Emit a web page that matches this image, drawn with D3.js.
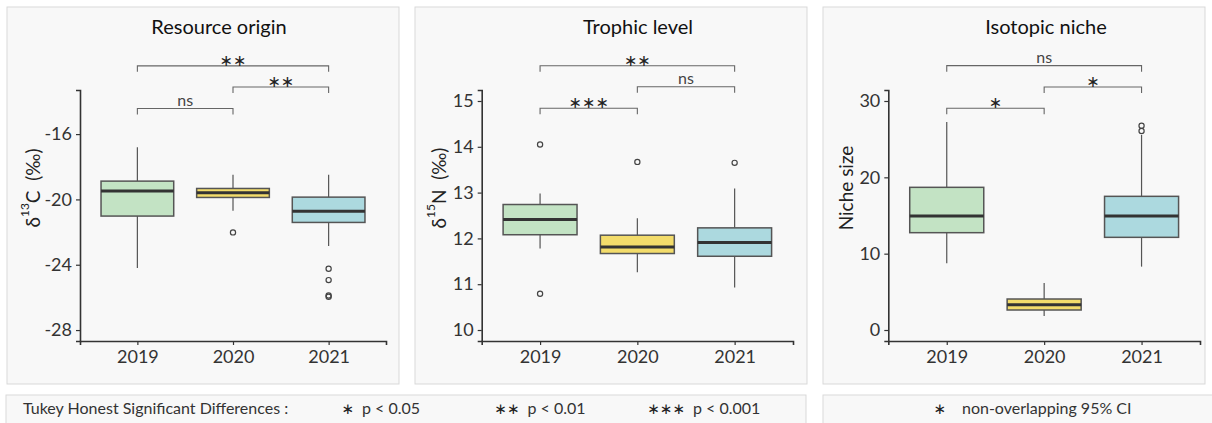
<!DOCTYPE html>
<html><head><meta charset="utf-8">
<script src="https://cdn.jsdelivr.net/npm/d3@7"></script>
<style>
html,body{margin:0;padding:0;background:#fff;}
svg{display:block;font-family:Lato, "Open Sans", sans-serif;}
</style></head>
<body><svg id="chart" width="1212" height="423"></svg>
<script>
// ---------------- DATA ----------------
const years = ["2019", "2020", "2021"];
const titles = ["Resource origin", "Trophic level", "Isotopic niche"];

// Resource origin (δ13C)
const c13Low  = [-24.20, -20.70, -22.86];
const c13Q1   = [-21.02, -19.88, -21.41];
const c13Med  = [-19.49, -19.59, -20.72];
const c13Q3   = [-18.88, -19.33, -19.86];
const c13High = [-16.80, -18.49, -18.49];
const c13Out  = [[], [-22.02], [-24.25, -24.94, -25.88, -25.96]];
const c13Ticks = [-28, -24, -20, -16];

// Trophic level (δ15N)
const n15Low  = [11.78, 11.26, 10.93];
const n15Q1   = [12.08, 11.67, 11.61];
const n15Med  = [12.41, 11.81, 11.91];
const n15Q3   = [12.74, 12.07, 12.23];
const n15High = [12.98, 12.44, 13.09];
const n15Out  = [[14.05, 10.79], [13.67], [13.65]];
const n15Ticks = [10, 11, 12, 13, 14, 15];

// Isotopic niche size
const nicheLow  = [8.73, 1.83, 8.30];
const nicheQ1   = [12.75, 2.62, 12.14];
const nicheMed  = [14.94, 3.32, 14.94];
const nicheQ3   = [18.69, 4.06, 17.51];
const nicheHigh = [27.25, 6.16, 25.55];
const nicheOut  = [[], [], [26.77, 26.07]];
const nicheTicks = [0, 10, 20, 30];

// Significance brackets: [from, to, label]
const c13Sig   = [["2019", "2021", "∗∗"], ["2020", "2021", "∗∗"], ["2019", "2020", "ns"]];
const n15Sig   = [["2019", "2021", "∗∗"], ["2020", "2021", "ns"], ["2019", "2020", "∗∗∗"]];
const nicheSig = [["2019", "2021", "ns"], ["2020", "2021", "∗"], ["2019", "2020", "∗"]];
// bracket heights (data units)
const c13SigY   = [-11.82, -13.12, -14.43];
const n15SigY   = [15.77, 15.31, 14.84];
const nicheSigY = [34.63, 31.83, 29.04];

const legendItems = [["∗", "p < 0.05"], ["∗∗", "p < 0.01"], ["∗∗∗", "p < 0.001"]];
const legendTitle = "Tukey Honest Significant Differences :";
const legendRight = ["∗", "non-overlapping 95% CI"];

const fills = ["#c3e3c4", "#f3dc6b", "#acd9df"];

// ---------------- LAYOUT ----------------
const svg = d3.select("#chart");
const plotTop = 90, plotBottom = 341;

const panels = [
  {bg:[7,399], ax:[80,386], dom:[-28.67,-13.30], ticks:c13Ticks, labelX:32, titleX:219,
   low:c13Low,q1:c13Q1,med:c13Med,q3:c13Q3,high:c13High,out:c13Out,sig:c13Sig,sigY:c13SigY,
   ylab:{pre:"δ",sup:"13",post:"C\u00a0\u00a0(‰)"}},
  {bg:[415,807], ax:[481.7,793], dom:[9.76,15.24], ticks:n15Ticks, labelX:438, titleX:638,
   low:n15Low,q1:n15Q1,med:n15Med,q3:n15Q3,high:n15High,out:n15Out,sig:n15Sig,sigY:n15SigY,
   ylab:{pre:"δ",sup:"15",post:"N\u00a0\u00a0(‰)"}},
  {bg:[823,1205], ax:[888.3,1200], dom:[-1.44,31.44], ticks:nicheTicks, labelX:845, titleX:1046,
   low:nicheLow,q1:nicheQ1,med:nicheMed,q3:nicheQ3,high:nicheHigh,out:nicheOut,sig:nicheSig,sigY:nicheSigY,
   ylab:{pre:"Niche size",sup:"",post:""}}
];

panels.forEach((p, i) => {
  const g = svg.append("g");
  // background
  g.append("rect").attr("x", p.bg[0]).attr("y", 7)
    .attr("width", p.bg[1]-p.bg[0]).attr("height", 377)
    .attr("fill", "#f8f8f8").attr("stroke", "#d9d9d9").attr("stroke-width", 1);
  // title
  g.append("text").attr("x", p.titleX).attr("y", 34)
    .attr("text-anchor", "middle").attr("font-size", 20).attr("fill", "#111")
    .text(titles[i]);

  const x = d3.scalePoint().domain(years).range(p.ax).padding(0.6);
  const y = d3.scaleLinear().domain(p.dom).range([plotBottom, plotTop]);
  const bw = x.step() * 0.76;

  // axes
  const yAxis = d3.axisLeft(y).tickValues(p.ticks).tickFormat(d => String(d)).tickSize(4).tickPadding(4);
  const ya = g.append("g").attr("transform", `translate(${p.ax[0]},0)`).call(yAxis);
  const xAxis = d3.axisBottom(x).tickSize(4).tickPadding(5);
  const xa = g.append("g").attr("transform", `translate(0,${plotBottom})`).call(xAxis);
  [ya, xa].forEach(a => {
    a.attr("font-family", "Lato, sans-serif").attr("font-size", 18);
    a.select(".domain").attr("stroke", "#333").attr("stroke-width", 1.6);
    a.selectAll(".tick line").attr("stroke", "#333").attr("stroke-width", 1.2);
    a.selectAll(".tick text").attr("fill", "#333");
  });

  // y label
  const yl = g.append("text")
    .attr("transform", `translate(${p.labelX},188) rotate(-90)`)
    .attr("text-anchor", "middle").attr("dominant-baseline", "central")
    .attr("font-size", 19).attr("fill", "#222");
  yl.append("tspan").text(p.ylab.pre);
  if (p.ylab.sup) {
    yl.append("tspan").attr("dy", -8).attr("font-size", 12).text(p.ylab.sup);
    yl.append("tspan").attr("dy", 8).text(p.ylab.post);
  }

  // boxes
  years.forEach((yr, k) => {
    const cx = x(yr);
    g.append("line").attr("x1", cx).attr("x2", cx)
      .attr("y1", y(p.high[k])).attr("y2", y(p.q3[k]))
      .attr("stroke", "#555").attr("stroke-width", 1.2);
    g.append("line").attr("x1", cx).attr("x2", cx)
      .attr("y1", y(p.q1[k])).attr("y2", y(p.low[k]))
      .attr("stroke", "#555").attr("stroke-width", 1.2);
    g.append("rect").attr("x", cx - bw/2).attr("width", bw)
      .attr("y", y(p.q3[k])).attr("height", y(p.q1[k]) - y(p.q3[k]))
      .attr("fill", fills[k]).attr("stroke", "#555").attr("stroke-width", 1.5);
    g.append("line").attr("x1", cx - bw/2).attr("x2", cx + bw/2)
      .attr("y1", y(p.med[k])).attr("y2", y(p.med[k]))
      .attr("stroke", "#333").attr("stroke-width", 3);
    g.selectAll(null).data(p.out[k]).enter().append("circle")
      .attr("cx", cx).attr("cy", d => y(d)).attr("r", 2.6)
      .attr("fill", "none").attr("stroke", "#444").attr("stroke-width", 1.2);
  });

  // significance brackets
  p.sig.forEach((s, k) => {
    const x1 = x(s[0]), x2 = x(s[1]), yy = y(p.sigY[k]);
    g.append("path")
      .attr("d", `M${x1},${yy+6}V${yy}H${x2}V${yy+6}`)
      .attr("fill", "none").attr("stroke", "#666").attr("stroke-width", 1.1);
    const isNs = s[2] === "ns";
    g.append("text").attr("x", (x1+x2)/2).attr("y", isNs ? yy - 2.5 : yy - 5.5)
      .attr("text-anchor", "middle")
      .attr("dominant-baseline", isNs ? "auto" : "central")
      .attr("font-size", 16)
      .attr("fill", isNs ? "#444" : "#222")
      .attr("font-family", isNs ? "Lato, sans-serif" : "DejaVu Sans, sans-serif")
      .text(s[2]);
  });
});

// ---------------- LEGEND ----------------
const leg = svg.append("g");
leg.append("rect").attr("x", 6).attr("y", 395).attr("width", 800).attr("height", 32)
  .attr("fill", "#f8f8f8").attr("stroke", "#d9d9d9");
leg.append("rect").attr("x", 823).attr("y", 395).attr("width", 395).attr("height", 32)
  .attr("fill", "#f8f8f8").attr("stroke", "#d9d9d9");
leg.append("text").attr("x", 23).attr("y", 414).attr("font-size", 16).attr("fill", "#333")
  .text(legendTitle);
const legX = d3.scalePoint().domain(legendItems.map(d => d[0])).range([362, 693]);
legendItems.forEach(d => {
  leg.append("text").attr("x", legX(d[0]) - 8).attr("y", 409)
    .attr("text-anchor", "end").attr("dominant-baseline", "central")
    .attr("font-family", "DejaVu Sans, sans-serif").attr("font-size", 15).attr("fill", "#222")
    .text(d[0]);
  leg.append("text").attr("x", legX(d[0])).attr("y", 414).attr("font-size", 16).attr("fill", "#333")
    .text(d[1]);
});
leg.append("text").attr("x", 946).attr("y", 409).attr("text-anchor", "end")
  .attr("dominant-baseline", "central")
  .attr("font-family", "DejaVu Sans, sans-serif").attr("font-size", 15).attr("fill", "#222")
  .text(legendRight[0]);
leg.append("text").attr("x", 962).attr("y", 414).attr("font-size", 16).attr("fill", "#333")
  .text(legendRight[1]);
</script></body></html>
